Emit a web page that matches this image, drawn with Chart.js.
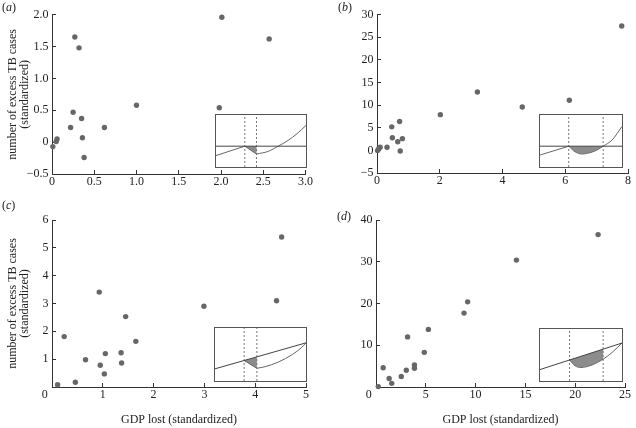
<!DOCTYPE html>
<html lang="en">
<head>
<meta charset="utf-8">
<title>excess TB cases vs GDP lost</title>
<script src="https://cdn.jsdelivr.net/npm/chart.js@4.4.1/dist/chart.umd.min.js"></script>
<style>
  body { margin: 0; width: 636px; height: 428px; position: relative; overflow: hidden; background: #fff; }
  .panel { position: absolute; }
  .inset { position: absolute; background: #fff; border: 1px solid #555; box-sizing: border-box; }
  .lettre { position: absolute; font: 12px 'Liberation Serif', serif; color: #222; line-height: 14px; }
</style>
</head>
<body>
<div class="panel" style="left:0;top:0;width:318px;height:200px"><canvas id="chartA"></canvas></div>
<div class="panel" style="left:318px;top:0;width:318px;height:200px"><canvas id="chartB"></canvas></div>
<div class="panel" style="left:0;top:200px;width:318px;height:228px"><canvas id="chartC"></canvas></div>
<div class="panel" style="left:318px;top:200px;width:318px;height:228px"><canvas id="chartD"></canvas></div>

<div class="inset" style="left:215px;top:114px;width:92px;height:54px"><canvas id="insetA"></canvas></div>
<div class="inset" style="left:539px;top:114px;width:84px;height:54px"><canvas id="insetB"></canvas></div>
<div class="inset" style="left:214px;top:327px;width:93px;height:55px"><canvas id="insetC"></canvas></div>
<div class="inset" style="left:539px;top:328px;width:84px;height:54px"><canvas id="insetD"></canvas></div>

<span class="lettre" style="left:2px;top:0px">(<i>a</i>)</span>
<span class="lettre" style="left:338px;top:0px">(<i>b</i>)</span>
<span class="lettre" style="left:2px;top:198px">(<i>c</i>)</span>
<span class="lettre" style="left:337px;top:209px">(<i>d</i>)</span>

<script>
// Données (GDP lost / excess TB cases, standardisés)
const aX = [0.01, 0.05, 0.06, 0.22, 0.25, 0.27, 0.32, 0.35, 0.36, 0.38, 0.62, 1.00, 1.98, 2.01, 2.57];
const aY = [-0.07, 0.01, 0.05, 0.23, 0.47, 1.65, 1.48, 0.37, 0.07, -0.24, 0.23, 0.58, 0.54, 1.96, 1.62];

const bX = [0.02, 0.10, 0.32, 0.47, 0.49, 0.66, 0.72, 0.74, 0.81, 2.02, 3.20, 4.63, 6.13, 7.80, 0.05];
const bY = [0.00, 0.70, 0.70, 5.20, 2.80, 1.90, 6.40, -0.15, 2.60, 7.90, 12.90, 9.60, 11.10, 27.50, 0.30];

const cX = [0.11, 0.24, 0.46, 0.66, 0.93, 0.95, 1.03, 1.05, 1.36, 1.37, 1.45, 1.65, 2.99, 4.42, 4.52];
const cY = [0.08, 1.81, 0.17, 0.98, 3.41, 0.78, 0.47, 1.20, 1.23, 0.86, 2.53, 1.64, 2.90, 3.10, 5.39];

const dX = [0.23, 0.72, 1.32, 1.58, 2.54, 3.04, 3.17, 3.86, 3.86, 4.85, 5.26, 8.84, 9.20, 14.10, 22.30];
const dY = [0.10, 4.60, 2.05, 0.87, 2.50, 4.00, 12.00, 5.30, 4.50, 8.30, 13.80, 17.70, 20.40, 30.40, 36.50];

// Graduations
const aXTicks = [0, 0.5, 1, 1.5, 2, 2.5, 3];
const aYTicks = [-0.5, 0, 0.5, 1, 1.5, 2];
const bXTicks = [0, 2, 4, 6, 8];
const bYTicks = [-5, 0, 5, 10, 15, 20, 25, 30];
const cXTicks = [0, 1, 2, 3, 4, 5];
const cYTicks = [1, 2, 3, 4, 5, 6];
const dXTicks = [0, 5, 10, 15, 20, 25];
const dYTicks = [10, 20, 30, 40];

const yTitle = ['number of excess TB cases', '(standardized)'];
const xTitle = 'GDP lost (standardized)';

// Encarts schématiques (coordonnées relatives 0..1 dans le cadre)
const ligneA = [[0, 0.40], [1, 0.40]];
const brisA = [[0, 0.22], [0.32, 0.40], [0.45, 0.25]];
const courbeA = [[0.45, 0.25], [0.58, 0.30], [0.69, 0.40], [0.80, 0.51], [0.90, 0.64], [1, 0.80]];
const seuilsA = [0.32, 0.45];
const zoneA = [[0.32, 0.40], [0.45, 0.40], [0.45, 0.25], [0.32, 0.40]];

const ligneB = [[0, 0.40], [1, 0.40]];
const brisB = [[0, 0.23], [0.35, 0.40]];
const courbeB = [[0.35, 0.40], [0.43, 0.29], [0.51, 0.25], [0.62, 0.28], [0.70, 0.33], [0.77, 0.40], [0.88, 0.52], [1, 0.78]];
const seuilsB = [0.35, 0.77];
const zoneB = [[0.35, 0.40], [0.77, 0.40], [0.70, 0.33], [0.62, 0.28], [0.51, 0.25], [0.43, 0.29], [0.35, 0.40]];

const ligneC = [[0, 0.23], [1, 0.72]];
const brisC = [[0.32, 0.387], [0.46, 0.24]];
const courbeC = [[0.46, 0.24], [0.55, 0.27], [0.70, 0.36], [0.85, 0.50], [0.95, 0.63], [1, 0.72]];
const seuilsC = [0.32, 0.46];
const zoneC = [[0.32, 0.387], [0.46, 0.455], [0.46, 0.24], [0.32, 0.387]];

const ligneD = [[0, 0.22], [1, 0.73]];
const brisD = [];
const courbeD = [[0.36, 0.404], [0.43, 0.29], [0.50, 0.26], [0.62, 0.30], [0.77, 0.42], [0.88, 0.55], [1, 0.73]];
const seuilsD = [0.36, 0.77];
const zoneD = [[0.36, 0.404], [0.77, 0.613], [0.77, 0.42], [0.62, 0.30], [0.50, 0.26], [0.43, 0.29], [0.36, 0.404]];

const police = { family: "'Liberation Serif', 'Times New Roman', serif", size: 12 };
const axe = '#333';

function moins(txt) {
    return txt.replace('-', '\u2212');
}

// Graphique principal d'un panneau
function creerPanneau(id, xs, ys, o) {
    const points = xs.map((x, i) => ({ x: x, y: ys[i] }));
    return new Chart(document.getElementById(id), {
        type: 'scatter',
        data: {
            datasets: [{
                data: points,
                backgroundColor: '#676767',
                borderWidth: 0,
                pointRadius: 2.7,
                pointHoverRadius: 2.7,
                clip: false
            }]
        },
        options: {
            responsive: true,
            maintainAspectRatio: false,
            animation: false,
            events: [],
            layout: { autoPadding: false, padding: { top: o.padTop, right: o.padRight, left: 0, bottom: 0 } },
            plugins: { legend: { display: false }, tooltip: { enabled: false } },
            scales: {
                x: {
                    type: 'linear',
                    min: o.xMin, max: o.xMax,
                    afterBuildTicks: s => { s.ticks = o.xTicks.map(v => ({ value: v })); },
                    afterFit: s => { s.height = o.xHeight; },
                    border: { display: true, color: axe, width: 1 },
                    grid: { drawOnChartArea: false, drawTicks: true, tickLength: -4, color: axe },
                    ticks: { padding: 5, color: '#222', font: police, maxRotation: 0, autoSkip: false, callback: o.xLabel },
                    title: { display: !!o.xTitle, text: xTitle, color: '#222', font: police, padding: { top: 0, bottom: 1 } }
                },
                y: {
                    type: 'linear',
                    min: o.yMin, max: o.yMax,
                    afterBuildTicks: s => { s.ticks = o.yTicks.map(v => ({ value: v })); },
                    afterFit: s => { s.width = o.yWidth; },
                    border: { display: true, color: axe, width: 1 },
                    grid: { drawOnChartArea: false, drawTicks: true, tickLength: -4, color: axe },
                    ticks: { padding: 7.5, color: '#222', font: police, autoSkip: false, callback: o.yLabel },
                    title: {
                        display: !!o.yTitle, text: yTitle, color: '#222',
                        font: Object.assign({}, police, { lineHeight: 1 }),
                        padding: { top: 7, bottom: 0 }
                    }
                }
            }
        }
    });
}

// Encart : cadre, seuils en pointillés, zone grisée
function versPoints(arr) {
    return arr.map(p => ({ x: p[0], y: p[1] }));
}

function creerEncart(id, ligne, bris, courbe, seuils, zone) {
    const trait = { pointRadius: 0, fill: false, borderWidth: 1 };
    const datasets = [
        Object.assign({ data: versPoints(ligne), borderColor: '#444' }, trait),
        Object.assign({ data: versPoints(bris), borderColor: '#666' }, trait),
        Object.assign({ data: versPoints(courbe), borderColor: '#666', cubicInterpolationMode: 'monotone' }, trait)
    ];
    seuils.forEach(s => {
        datasets.push(Object.assign({ data: [{ x: s, y: 0 }, { x: s, y: 1 }], borderColor: '#777', borderDash: [2, 2] }, trait));
    });
    datasets.push({ data: versPoints(zone), borderWidth: 0, pointRadius: 0, fill: 'shape', backgroundColor: '#8c8c8c' });

    return new Chart(document.getElementById(id), {
        type: 'line',
        data: { datasets: datasets },
        options: {
            responsive: true,
            maintainAspectRatio: false,
            animation: false,
            events: [],
            layout: { autoPadding: false, padding: 0 },
            plugins: { legend: { display: false }, tooltip: { enabled: false } },
            scales: {
                x: { type: 'linear', min: 0, max: 1, display: false },
                y: { type: 'linear', min: 0, max: 1, display: false }
            }
        }
    });
}

const decimal = v => v === 0 ? '0' : moins(v.toFixed(1));
const entier = v => moins(String(v));
// le « 0 » de l'origine est décalé vers la gauche
const origine = v => v === 0 ? '0\u2003\u2009' : String(v);

creerPanneau('chartA', aX, aY, {
    xMin: 0, xMax: 3, yMin: -0.5, yMax: 2, xTicks: aXTicks, yTicks: aYTicks,
    xLabel: decimal, yLabel: decimal, yTitle: true, xTitle: false,
    padTop: 7, padRight: 12, yWidth: 52, xHeight: 26
});
creerPanneau('chartB', bX, bY, {
    xMin: 0, xMax: 8, yMin: -5, yMax: 30, xTicks: bXTicks, yTicks: bYTicks,
    xLabel: entier, yLabel: entier, yTitle: false, xTitle: false,
    padTop: 7, padRight: 6, yWidth: 59, xHeight: 27
});
creerPanneau('chartC', cX, cY, {
    xMin: 0, xMax: 5, yMin: 0, yMax: 6, xTicks: cXTicks, yTicks: cYTicks,
    xLabel: origine, yLabel: entier, yTitle: true, xTitle: true,
    padTop: 20, padRight: 12, yWidth: 52, xHeight: 41
});
creerPanneau('chartD', dX, dY, {
    xMin: 0, xMax: 25, yMin: 0, yMax: 40, xTicks: dXTicks, yTicks: dYTicks,
    xLabel: origine, yLabel: entier, yTitle: false, xTitle: true,
    padTop: 20, padRight: 5, yWidth: 58, xHeight: 41
});

creerEncart('insetA', ligneA, brisA, courbeA, seuilsA, zoneA);
creerEncart('insetB', ligneB, brisB, courbeB, seuilsB, zoneB);
creerEncart('insetC', ligneC, brisC, courbeC, seuilsC, zoneC);
creerEncart('insetD', ligneD, brisD, courbeD, seuilsD, zoneD);
</script>
</body>
</html>
